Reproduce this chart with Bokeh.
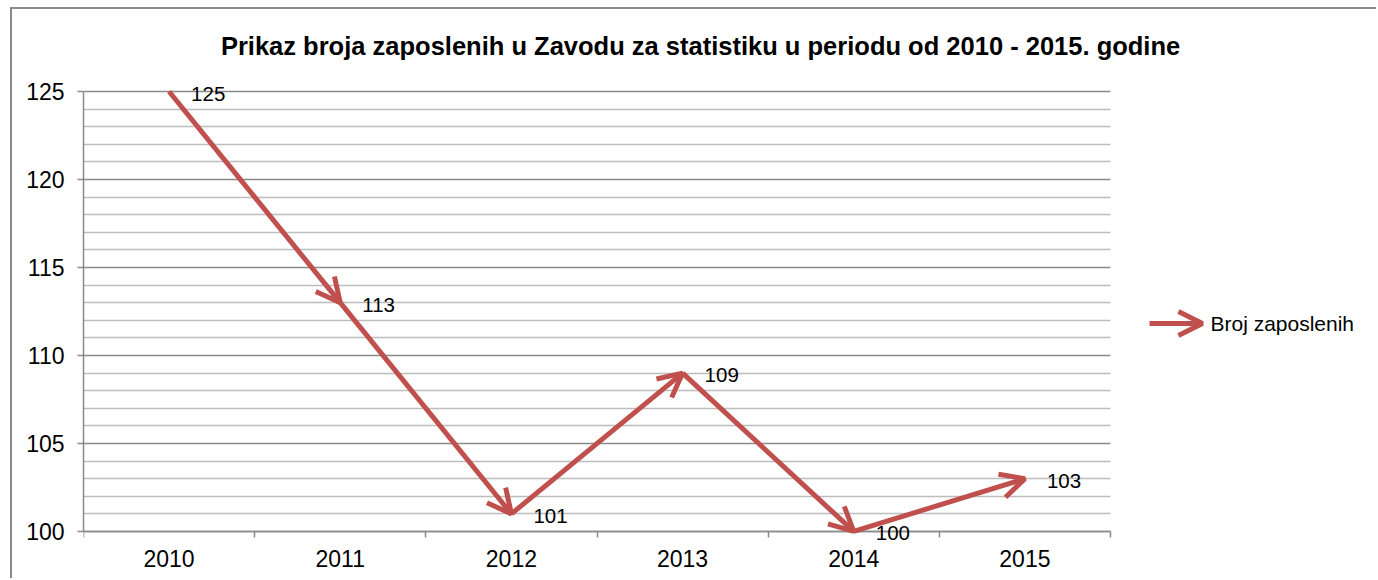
from bokeh.plotting import figure
from bokeh.models import (ColumnDataSource, FixedTicker, Arrow, OpenHead, LabelSet, Label,
                          Range1d, Grid)
from bokeh.core.properties import value
from bokeh.embed import file_html
from bokeh.resources import INLINE

# ---- data ----
years = ["2010", "2011", "2012", "2013", "2014", "2015"]
employees = [125, 113, 101, 109, 100, 103]
y_major_ticks = [100, 105, 110, 115, 120, 125]
y_minor_ticks = [101, 102, 103, 104, 106, 107, 108, 109, 111, 112, 113, 114,
                 116, 117, 118, 119, 121, 122, 123, 124]
title_text = "Prikaz broja zaposlenih u Zavodu za statistiku u periodu od 2010 - 2015. godine"
series_name = "Broj zaposlenih"

RED = "#C0504D"
FONT = "Liberation Sans"
GRAY = "#8a8a8a"
LIGHT = "#bdbdbd"

n = len(years)
xs = [i + 0.5 for i in range(n)]
ymin, ymax = y_major_ticks[0], y_major_ticks[-1]

p = figure(width=1366, height=571, output_backend="svg", toolbar_location=None,
           x_range=Range1d(0, 7.554), y_range=Range1d(97.44, 129.49),
           min_border_left=71, min_border_right=2, min_border_top=3,
           min_border_bottom=4)
p.styles = {"margin-top": "7px", "margin-left": "10px",
            "border-top": "2px solid #8a8a8a", "border-left": "2px solid #8a8a8a"}
p.outline_line_color = None
p.background_fill_color = "white"
p.border_fill_color = "white"

# x axis at y = 100, labels at category centres, ticks at boundaries
xa = p.xaxis[0]
xa.fixed_location = ymin
xa.bounds = (0, n)
xa.ticker = FixedTicker(ticks=xs, minor_ticks=list(range(n + 1)))
xa.major_label_overrides = {x: y for x, y in zip(xs, years)}
xa.major_tick_out = 0
xa.major_tick_in = 0
xa.minor_tick_out = 6
xa.minor_tick_in = 0
xa.minor_tick_line_color = GRAY
xa.minor_tick_line_width = 1.5
xa.axis_line_color = GRAY
xa.axis_line_width = 1.5
xa.major_label_text_font = FONT
xa.major_label_text_font_size = "23px"
xa.major_label_text_color = "black"
xa.major_label_standoff = 13

ya = p.yaxis[0]
ya.bounds = (ymin, ymax)
ya.ticker = FixedTicker(ticks=y_major_ticks, minor_ticks=y_minor_ticks)
ya.major_tick_out = 6
ya.major_tick_in = 0
ya.minor_tick_out = 0
ya.minor_tick_in = 0
ya.major_tick_line_color = GRAY
ya.major_tick_line_width = 1.5
ya.axis_line_color = GRAY
ya.axis_line_width = 1.5
ya.major_label_text_font = FONT
ya.major_label_text_font_size = "23px"
ya.major_label_text_color = "black"
ya.major_label_standoff = 13

p.xgrid.visible = False
yg = p.ygrid[0]
if "cross_bounds" in Grid.properties():
    yg.cross_bounds = (0, n)
    yg.grid_line_color = GRAY
    yg.grid_line_width = 1.5
    yg.minor_grid_line_color = LIGHT
    yg.minor_grid_line_width = 1.5
else:
    yg.visible = False
    p.segment(x0=0, x1=n, y0=y_minor_ticks, y1=y_minor_ticks, line_color=LIGHT, line_width=1.5)
    p.segment(x0=0, x1=n, y0=y_major_ticks, y1=y_major_ticks, line_color=GRAY, line_width=1.5)

# data arrows
src = ColumnDataSource(dict(x0=xs[:-1], y0=employees[:-1], x1=xs[1:], y1=employees[1:]))
p.add_layout(Arrow(x_start="x0", y_start="y0", x_end="x1", y_end="y1", source=src,
                   line_color=RED, line_width=5,
                   end=OpenHead(size=24, line_color=RED, line_width=5)))

lsrc = ColumnDataSource(dict(x=xs, y=employees, t=[str(v) for v in employees]))
p.add_layout(LabelSet(x="x", y="y", text="t", source=lsrc, x_offset=22, y_offset=-2,
                      text_baseline="middle", text_font=value(FONT),
                      text_font_size=value("20.5px"), text_color="black"))

# title
p.add_layout(Label(x=3.605, y=127.61, text=title_text,
                   text_align="center", text_baseline="middle", text_font=FONT,
                   text_font_size="25.5px", text_font_style="bold", text_color="black"))

# legend
p.add_layout(Arrow(x_start=6.228, y_start=111.82, x_end=6.537, y_end=111.82,
                   line_color=RED, line_width=5,
                   end=OpenHead(size=24, line_color=RED, line_width=5)))
p.add_layout(Label(x=6.584, y=111.82, text=series_name,
                   text_baseline="middle", text_font=FONT, text_font_size="21px",
                   text_color="black"))

open("out.html", "w").write(file_html(p, INLINE))
